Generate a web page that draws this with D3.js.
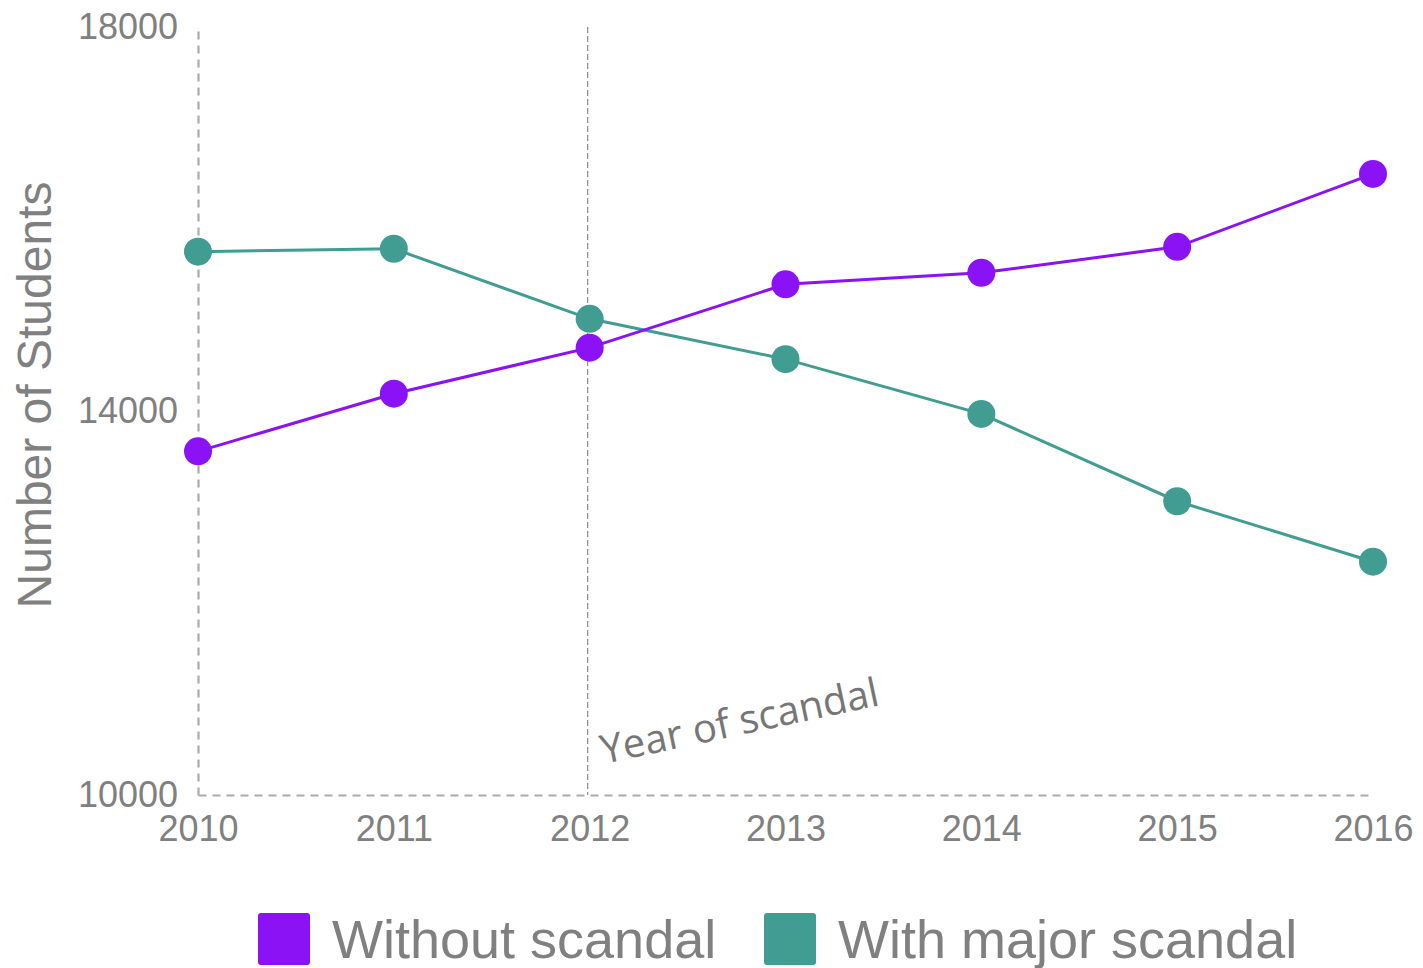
<!DOCTYPE html>
<html>
<head>
<meta charset="utf-8">
<script src="https://cdn.jsdelivr.net/npm/d3@7"></script>
<style>
  body { margin: 0; background: #fff; }
  svg { display: block; }
</style>
</head>
<body>
<svg id="chart" width="1423" height="968"></svg>
<script>
// data
var years = [2010, 2011, 2012, 2013, 2014, 2015, 2016];
var withoutScandal = [13580, 14180, 14660, 15320, 15440, 15710, 16470];
var withScandal = [15660, 15690, 14960, 14540, 13970, 13060, 12430];
var yTicks = [10000, 14000, 18000];
var seriesNames = ["Without scandal", "With major scandal"];
var seriesColors = ["#8b12f5", "#419d92"];
var scandalYear = 2012;

var svg = d3.select("#chart");
// note: "top" is taken by window.top, so use plot* names
var plotLeft = 198, plotRight = 1373, plotTop = 27, plotBottom = 795;

var x = d3.scaleLinear().domain([2010, 2016]).range([plotLeft, plotRight]);
var y = d3.scaleLinear().domain([10000, 18000]).range([plotBottom, plotTop]);

var gray = "#808080";

// left axis, dashed line + labels
var yAxis = svg.append("g")
    .attr("transform", "translate(" + plotLeft + ",0)")
    .call(d3.axisLeft(y).tickValues(yTicks).tickSize(0).tickPadding(20).tickFormat(d3.format("d")));
yAxis.select(".domain")
    .attr("stroke", "#ababab")
    .attr("stroke-width", 2.2)
    .attr("stroke-dasharray", "8,6");
yAxis.selectAll("text")
    .attr("fill", gray)
    .style("font-family", "'Liberation Sans', Arial, sans-serif")
    .style("font-size", "36px");

// bottom axis
var xAxis = svg.append("g")
    .attr("transform", "translate(0," + plotBottom + ")")
    .call(d3.axisBottom(x).tickValues(years).tickSize(0).tickPadding(20).tickFormat(d3.format("d")));
xAxis.select(".domain")
    .attr("stroke", "#ababab")
    .attr("stroke-width", 2.2)
    .attr("stroke-dasharray", "8,6");
xAxis.selectAll("text")
    .attr("fill", gray)
    .style("font-family", "'Liberation Sans', Arial, sans-serif")
    .style("font-size", "36px");

// y title
svg.append("text")
    .attr("transform", "translate(51,395) rotate(-90)")
    .attr("text-anchor", "middle")
    .attr("fill", gray)
    .style("font-family", "'Liberation Sans', Arial, sans-serif")
    .style("font-size", "48px")
    .text("Number of Students");

// scandal marker line
svg.append("line")
    .attr("x1", x(scandalYear) - 2).attr("x2", x(scandalYear) - 2)
    .attr("y1", plotTop).attr("y2", plotBottom)
    .attr("stroke", "#8a8a8a")
    .attr("stroke-width", 1.2)
    .attr("stroke-dasharray", "6,3");

svg.append("text")
    .attr("transform", "translate(" + (x(scandalYear) + 14) + ",764) rotate(-12)")
    .attr("fill", "#767676")
    .style("font-family", "'Open Sans', sans-serif")
    .style("font-size", "40px")
    .text("Year of scandal");

// lines + points
var line = d3.line()
    .x(function (d, i) { return x(years[i]); })
    .y(function (d) { return y(d); });

[withScandal, withoutScandal].forEach(function (vals, k) {
    var col = k === 0 ? seriesColors[1] : seriesColors[0];
    svg.append("path")
        .datum(vals)
        .attr("d", line)
        .attr("fill", "none")
        .attr("stroke", col)
        .attr("stroke-width", 3);
    svg.selectAll(null)
        .data(vals)
        .enter()
        .append("circle")
        .attr("cx", function (d, i) { return x(years[i]); })
        .attr("cy", function (d) { return y(d); })
        .attr("r", 14)
        .attr("fill", col);
});

// legend
var legend = svg.append("g").attr("transform", "translate(258,913)");
var offsets = [0, 506];
seriesNames.forEach(function (name, i) {
    var g = legend.append("g").attr("transform", "translate(" + offsets[i] + ",0)");
    g.append("rect")
        .attr("width", 52).attr("height", 52)
        .attr("rx", 3)
        .attr("fill", seriesColors[i]);
    g.append("text")
        .attr("x", 74)
        .attr("y", 45)
        .attr("fill", gray)
        .style("font-family", "'Liberation Sans', Arial, sans-serif")
        .style("font-size", "54px")
        .text(name);
});
</script>
</body>
</html>
